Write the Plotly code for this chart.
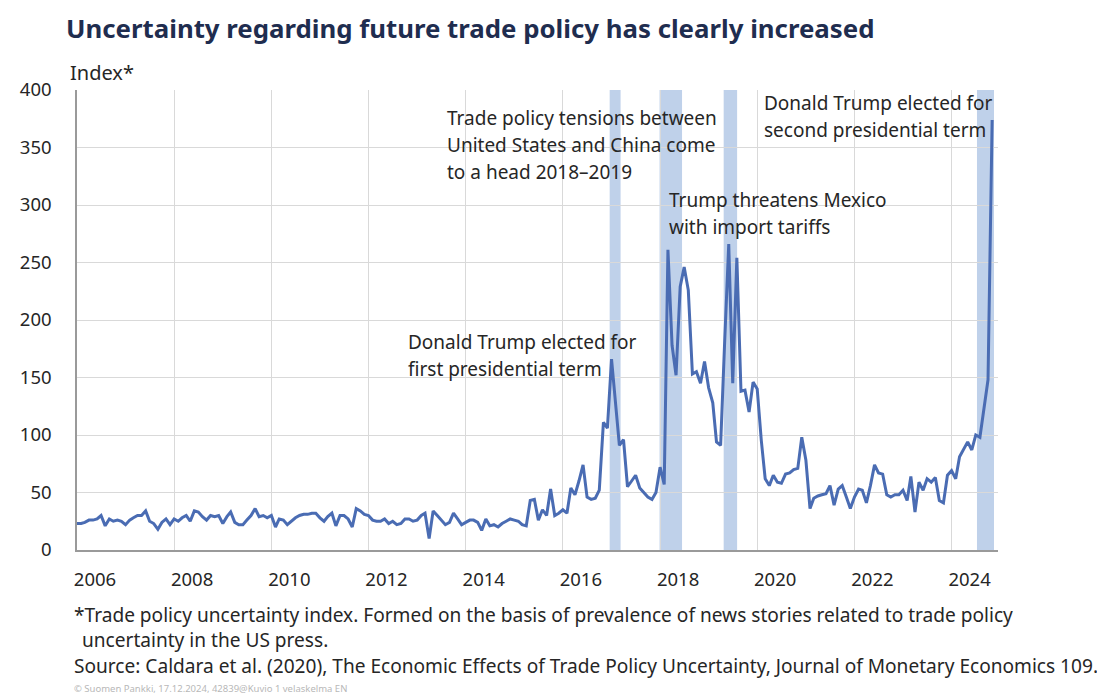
import plotly.graph_objects as go
import pandas as pd

# Monthly trade policy uncertainty index, Jan 2006 - Nov 2024
tpu_2006 = [23, 23, 24, 26, 26, 27, 30, 21, 27, 25, 26, 25]
tpu_2007 = [22, 26, 28, 30, 30, 34, 25, 23, 18, 24, 27, 22]
tpu_2008 = [27, 25, 28, 30, 25, 34, 33, 29, 26, 30, 29, 30]
tpu_2009 = [23, 29, 33, 24, 22, 22, 26, 30, 36, 29, 30, 28]
tpu_2010 = [30, 20, 27, 26, 22, 25, 28, 30, 31, 31, 32, 32]
tpu_2011 = [28, 25, 29, 32, 21, 30, 30, 27, 20, 36, 34, 31]
tpu_2012 = [30, 26, 25, 25, 27, 23, 25, 22, 23, 27, 27, 25]
tpu_2013 = [26, 30, 32, 10, 34, 30, 26, 22, 24, 32, 27, 22]
tpu_2014 = [24, 26, 26, 24, 17, 27, 21, 22, 20, 23, 25, 27]
tpu_2015 = [26, 25, 22, 21, 43, 44, 26, 35, 30, 53, 30, 32]
tpu_2016 = [35, 32, 54, 48, 60, 74, 46, 44, 45, 52, 111, 106]
tpu_2017 = [166, 128, 91, 96, 55, 60, 65, 54, 50, 46, 44, 50]
tpu_2018 = [72, 57, 261, 178, 152, 229, 246, 226, 153, 155, 145, 164]
tpu_2019 = [141, 128, 94, 91, 180, 266, 145, 254, 138, 139, 120, 146]
tpu_2020 = [140, 95, 62, 56, 65, 59, 58, 66, 67, 70, 71, 98]
tpu_2021 = [78, 36, 45, 47, 48, 49, 56, 39, 53, 56, 46, 36]
tpu_2022 = [46, 53, 52, 41, 56, 74, 67, 66, 48, 46, 48, 48]
tpu_2023 = [52, 43, 64, 33, 59, 52, 62, 59, 63, 43, 41, 65]
tpu_2024 = [69, 62, 81, 88, 94, 87, 100, 98, 123, 148, 374]

series_start = "2006-01-01"

# Highlighted event periods
band_starts = ["2016-12-18", "2017-12-28", "2019-04-24", "2024-07-10"]
band_ends = ["2017-03-10", "2018-06-15", "2019-08-03", "2024-11-15"]

tick_years = [2006, 2008, 2010, 2012, 2014, 2016, 2018, 2020, 2022, 2024]
y_ticks = [0, 50, 100, 150, 200, 250, 300, 350, 400]

values = (tpu_2006 + tpu_2007 + tpu_2008 + tpu_2009 + tpu_2010 + tpu_2011 +
          tpu_2012 + tpu_2013 + tpu_2014 + tpu_2015 + tpu_2016 + tpu_2017 +
          tpu_2018 + tpu_2019 + tpu_2020 + tpu_2021 + tpu_2022 + tpu_2023 + tpu_2024)
dates = pd.date_range(series_start, periods=len(values), freq="MS")

# page has an 8px body margin; figure placed at (8, 8)
OFF = 8
W, H = 1105 - OFF, 698 - OFF
ML, MT, PW, PH = 71 - OFF, 90 - OFF, 927, 460
MR = W - ML - PW
MB = H - MT - PH

def fx(px):
    return (px - OFF - ML) / PW

def fy(py):
    return (MT + PH - (py - OFF)) / PH

FONT = "Noto Sans"
TXT = "#262626"

fig = go.Figure()
fig.add_trace(go.Scatter(
    x=dates, y=values, mode="lines",
    line=dict(color="#4a6cb3", width=3),
    hoverinfo="x+y", showlegend=False,
))

for s, e in zip(band_starts, band_ends):
    fig.add_shape(type="rect", xref="x", yref="paper", x0=s, x1=e, y0=0, y1=1,
                  fillcolor="#bfd1ea", line=dict(width=0), layer="below")

annots = []

def add_text(text, px, py, size, color=TXT, bold=False, yanchor="middle"):
    annots.append(dict(
        text=f"<b>{text}</b>" if bold else text,
        xref="paper", yref="paper", x=fx(px), y=fy(py),
        xanchor="left", yanchor=yanchor, showarrow=False, align="left",
        borderpad=0,
        font=dict(family=FONT, size=size, color=color),
    ))

add_text("Uncertainty regarding future trade policy has clearly increased", 59, 8.5, 25.8,
         "#1f2d4f", bold=True, yanchor="top")
add_text("Index*", 63, 72, 20)

AS = 19
add_text("Trade policy tensions between", 442, 118, AS)
add_text("United States and China come", 442, 145, AS)
add_text("to a head 2018\u20132019", 442, 172, AS)
add_text("Trump threatens Mexico", 666, 200, AS)
add_text("with import tariffs", 666, 227, AS)
add_text("Donald Trump elected for", 761, 103, AS)
add_text("second presidential term", 761, 130, AS)
add_text("Donald Trump elected for", 403, 342, AS)
add_text("first presidential term", 403, 369, AS)

FS = 19.1
add_text("*Trade policy uncertainty index. Formed on the basis of prevalence of news stories related to trade policy", 67, 615, FS)
add_text(" uncertainty in the US press.", 70, 640, FS)
add_text("Source: Caldara et al. (2020), The Economic Effects of Trade Policy Uncertainty, Journal of Monetary Economics 109.", 67, 666, FS)
add_text("\u00a9 Suomen Pankki, 17.12.2024, 42839@Kuvio 1 velaskelma EN", 67, 688, 9.5, "#b8b8b8")

fig.update_layout(
    width=W, height=H,
    margin=dict(l=ML, r=MR, t=MT, b=MB, pad=0),
    paper_bgcolor="white", plot_bgcolor="white",
    font=dict(family=FONT, size=18, color=TXT),
    annotations=annots,
    showlegend=False,
)

fig.update_xaxes(
    type="date",
    range=["2006-01-01", "2024-12-15"],
    tickvals=[f"{y}-01-01" for y in tick_years],
    ticktext=[str(y) for y in tick_years],
    ticklabelshift=18, ticklabelstandoff=12,
    ticks="", showgrid=True, gridcolor="#d9d9d9", gridwidth=1,
    showline=True, linecolor="#9a9a9a", linewidth=1.5,
    tickfont=dict(family=FONT, size=18.5, color=TXT),
    zeroline=False, fixedrange=True,
)
fig.update_yaxes(
    range=[0, 400],
    tickvals=y_ticks,
    ticks="", ticklabelstandoff=20,
    showgrid=True, gridcolor="#d9d9d9", gridwidth=1,
    showline=True, linecolor="#9a9a9a", linewidth=1.5,
    tickfont=dict(family=FONT, size=18.5, color=TXT),
    zeroline=False, fixedrange=True,
)

fig.write_html("out.html")
